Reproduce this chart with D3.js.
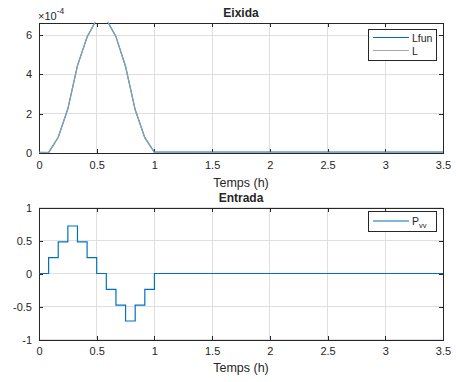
<!DOCTYPE html>
<html><head><meta charset="utf-8">
<script src="https://cdn.jsdelivr.net/npm/d3@7"></script>
<style>body{margin:0;background:#fff}svg{display:block}text{font-family:"Liberation Sans",Arial,sans-serif;fill:#262626}</style>
</head><body><svg id="c" width="456" height="382"></svg>
<script>
// ---- data ----
const tSteps = [0,1/12,2/12,3/12,4/12,5/12,6/12,7/12,8/12,9/12,10/12,11/12,1,3.5];
const lfun = [0,0.02e-4,0.8e-4,2.25e-4,4.45e-4,5.9e-4,6.8e-4,6.8e-4,5.92e-4,4.4e-4,2.2e-4,0.78e-4,0.04e-4,0.04e-4];
const lsim = [0.04e-4,0.03e-4,0.8e-4,2.26e-4,4.45e-4,5.9e-4,6.8e-4,6.8e-4,5.93e-4,4.4e-4,2.2e-4,0.78e-4,0.02e-4,0.02e-4];
const pvvT = [0,1/12,2/12,3/12,4/12,5/12,6/12,7/12,8/12,9/12,10/12,11/12,1,3.5];
const pvv  = [0,0.24,0.48,0.72,0.48,0.24,0,-0.24,-0.48,-0.72,-0.48,-0.24,0,0];
const xTicks = [0,0.5,1,1.5,2,2.5,3,3.5];
const yTicksTop = [0,2e-4,4e-4,6e-4];
const yTicksBot = [-1,-0.5,0,0.5,1];
const titles = ["Eixida","Entrada"];
const xLabel = "Temps (h)";

const svg = d3.select("#c");
const L = 39, R = 443;
const axCol = "#262626", gridCol = "#dfdfdf";
const fmt = d => String(+d.toFixed(6)).replace("\u2212","-");

function panel(id, top, bot, yDom, yTicks, yFmt, title, tY, xlY) {
  const x = d3.scaleLinear().domain([0,3.5]).range([L,R]);
  const y = d3.scaleLinear().domain(yDom).range([bot,top]);
  const g = svg.append("g");
  g.selectAll(".gx").data(xTicks).enter().append("line")
    .attr("x1",d=>x(d)).attr("x2",d=>x(d)).attr("y1",top).attr("y2",bot)
    .attr("stroke",gridCol).attr("stroke-width",1).attr("shape-rendering","crispEdges");
  g.selectAll(".gy").data(yTicks).enter().append("line")
    .attr("x1",L).attr("x2",R).attr("y1",d=>y(d)).attr("y2",d=>y(d))
    .attr("stroke",gridCol).attr("stroke-width",1).attr("shape-rendering","crispEdges");
  svg.append("clipPath").attr("id",id).append("rect")
    .attr("x",L).attr("y",top).attr("width",R-L).attr("height",bot-top);
  const axB = d3.axisBottom(x).tickValues(xTicks).tickSize(-4).tickPadding(8).tickFormat(fmt);
  const axT = d3.axisTop(x).tickValues(xTicks).tickSize(-4).tickFormat("");
  const axLft = d3.axisLeft(y).tickValues(yTicks).tickSize(-4).tickPadding(7).tickFormat(yFmt);
  const axRt = d3.axisRight(y).tickValues(yTicks).tickSize(-4).tickFormat("");
  [[axB,`translate(0,${bot})`],[axT,`translate(0,${top})`],[axLft,`translate(${L},0)`],[axRt,`translate(${R},0)`]].forEach(([a,t])=>{
    const ag = g.append("g").attr("transform",t).call(a);
    ag.select(".domain").attr("stroke",axCol).attr("stroke-width",1).attr("shape-rendering","crispEdges");
    ag.selectAll(".tick line").attr("stroke",axCol).attr("shape-rendering","crispEdges");
    ag.selectAll("text").attr("fill",axCol).style("font-size","11px").style("font-family","Liberation Sans, Arial, sans-serif");
  });
  g.append("text").attr("x",(L+R)/2).attr("y",tY).attr("text-anchor","middle")
    .style("font-weight","bold").style("font-size","12px").text(title);
  g.append("text").attr("x",(L+R)/2).attr("y",xlY).attr("text-anchor","middle")
    .style("font-size","12.5px").text(xLabel);
  return {x,y,g};
}

// top panel
const p1 = panel("clipTop", 22.5, 153, [0,6.64e-4], yTicksTop, d=>fmt(d*1e4), titles[0], 17.3, 186.7);
const line1 = d3.line().x((d,i)=>p1.x(tSteps[i])).y(d=>p1.y(d));
p1.g.append("path").datum(lfun).attr("d",line1).attr("fill","none").attr("stroke","#0072BD").attr("stroke-width",1.2).attr("clip-path","url(#clipTop)");
p1.g.append("path").datum(lsim).attr("d",line1).attr("fill","none").attr("stroke","#a6a6a6").attr("stroke-width",1.2).attr("stroke-opacity",0.85).attr("clip-path","url(#clipTop)");
const ex = p1.g.append("text").attr("x",38).attr("y",19.5).style("font-size","11px");
ex.append("tspan").text("\u00d710");
ex.append("tspan").attr("dy",-6).style("font-size","8.5px").text("-4");

// legend top
const lg1 = p1.g.append("g");
lg1.append("rect").attr("x",368.5).attr("y",29.5).attr("width",68).attr("height",31).attr("fill","#fff").attr("stroke",axCol).attr("stroke-width",1);
lg1.append("line").attr("x1",373).attr("x2",409).attr("y1",37.5).attr("y2",37.5).attr("stroke","#0072BD").attr("stroke-width",1.2);
lg1.append("line").attr("x1",373).attr("x2",409).attr("y1",50.5).attr("y2",50.5).attr("stroke","#a6a6a6").attr("stroke-width",1.2);
lg1.append("text").attr("x",412).attr("y",41.5).style("font-size","10.5px").text("Lfun");
lg1.append("text").attr("x",412).attr("y",54.5).style("font-size","10.5px").text("L");

// bottom panel
const p2 = panel("clipBot", 207.5, 339.5, [-1,1], yTicksBot, fmt, titles[1], 202.3, 371.7);
const line2 = d3.line().curve(d3.curveStepAfter).x((d,i)=>p2.x(pvvT[i])).y(d=>p2.y(d));
p2.g.append("path").datum(pvv).attr("d",line2).attr("fill","none").attr("stroke","#0072BD").attr("stroke-width",1.2).attr("clip-path","url(#clipBot)");
const lg2 = p2.g.append("g");
lg2.append("rect").attr("x",368.5).attr("y",211.5).attr("width",68).attr("height",20).attr("fill","#fff").attr("stroke",axCol).attr("stroke-width",1);
lg2.append("line").attr("x1",373).attr("x2",409).attr("y1",221).attr("y2",221).attr("stroke","#0072BD").attr("stroke-width",1.2);
const pt = lg2.append("text").attr("x",412).attr("y",224.5).style("font-size","10.5px");
pt.append("tspan").text("P");
pt.append("tspan").attr("dy",3).style("font-size","7.5px").text("vv");
</script></body></html>
